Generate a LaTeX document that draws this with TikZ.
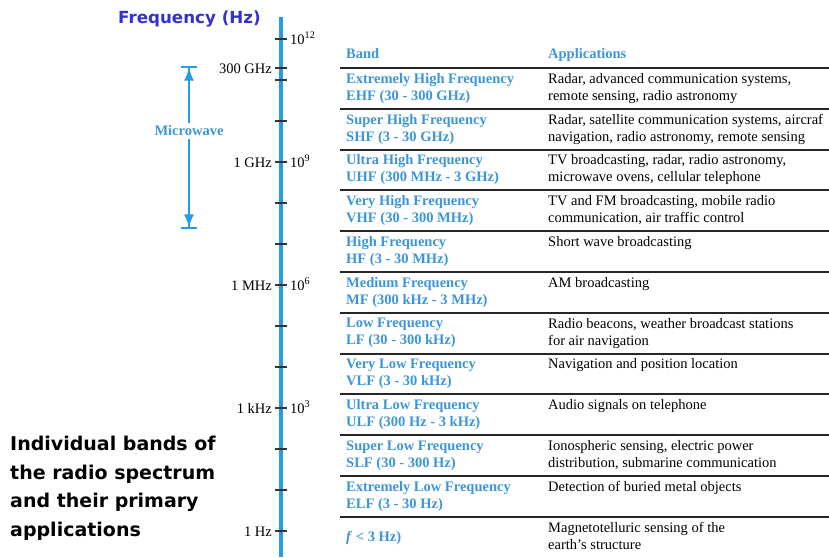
\documentclass[tikz,border=0pt]{standalone}
\usepackage{fontspec}
\setmainfont{Liberation Serif}
\newfontfamily\capfont{DejaVu Sans}
\usetikzlibrary{arrows.meta}
\definecolor{axisblue}{RGB}{40,155,230}
\definecolor{bandblue}{RGB}{60,150,215}
\definecolor{titleblue}{RGB}{50,50,210}
\newcommand\tabsize{\fontsize{14.5}{17}\selectfont}

\begin{document}
\begin{tikzpicture}[x=1pt,y=-1pt,
  band/.style={anchor=north west, inner sep=0pt, align=left, font=\tabsize\bfseries, text=bandblue},
  app/.style={anchor=north west, inner sep=0pt, align=left, font=\tabsize},
  ticklbl/.style={inner sep=0pt, font=\tabsize},
  rule/.style={line width=2pt, black!85},
  tickmark/.style={line width=1.8pt, black!80},
  mwarrow/.style={line width=1.6pt, axisblue, -{Latex[length=13pt,width=10pt]Bar[width=16pt,line width=1.6pt]}}]
\useasboundingbox[fill=white] (0,0) rectangle (829,557);

\node (title) [anchor=west, inner sep=0pt, font=\capfont\fontsize{16.7}{20}\selectfont\bfseries, text=titleblue] at (118,19) {Frequency (Hz)};

\draw[line width=3.5pt, axisblue] (281,17) -- (281,557);
\foreach \y in {39,80,...,531,68}
  \draw[tickmark] (275,\y) -- (287,\y);

\node (t12) [ticklbl, anchor=base west] at (290,44) {10\textsuperscript{12}};
\node (f300g) [ticklbl, anchor=base east] at (272,73) {300 GHz};
\node (f1g) [ticklbl, anchor=base east] at (272,167) {1 GHz};
\node (t9) [ticklbl, anchor=base west] at (290,167) {10\textsuperscript{9}};
\node (f1m) [ticklbl, anchor=base east] at (272,290) {1 MHz};
\node (t6) [ticklbl, anchor=base west] at (290,290) {10\textsuperscript{6}};
\node (f1k) [ticklbl, anchor=base east] at (272,413) {1 kHz};
\node (t3) [ticklbl, anchor=base west] at (290,413) {10\textsuperscript{3}};
\node (f1) [ticklbl, anchor=base east] at (272,536) {1 Hz};

\node (mw) [inner sep=3pt, font=\tabsize\bfseries, text=bandblue] at (189,131) {Microwave};
\coordinate (mwtop) at (189,66);
\coordinate (mwbot) at (189,229);
\draw[mwarrow] (mw) -- (mwtop);
\draw[mwarrow] (mw) -- (mwbot);

\node (hband) [band, anchor=base west] at (346,58) {Band};
\node (happ) [band, anchor=base west] at (548,58) {Applications};
\foreach \y in {68,108.8,149.6,190.4,231.2,272,312.8,353.6,394.4,435.2,476,516.8}
  \draw[rule] (340,\y) -- (829,\y);

\node (ehf) [band] at (346,73) {Extremely High Frequency\\EHF (30 - 300 GHz)};
\node (ehfapp) [app] at (548,73) {Radar, advanced communication systems,\\remote sensing, radio astronomy};
\node (shf) [band] at (346,113.8) {Super High Frequency\\SHF (3 - 30 GHz)};
\node (shfapp) [app] at (548,113.8) {Radar, satellite communication systems, aircraf\\navigation, radio astronomy, remote sensing};
\node (uhf) [band] at (346,154.6) {Ultra High Frequency\\UHF (300 MHz - 3 GHz)};
\node (uhfapp) [app] at (548,154.6) {TV broadcasting, radar, radio astronomy,\\microwave ovens, cellular telephone};
\node (vhf) [band] at (346,195.4) {Very High Frequency\\VHF (30 - 300 MHz)};
\node (vhfapp) [app] at (548,195.4) {TV and FM broadcasting, mobile radio\\communication, air traffic control};
\node (hf) [band] at (346,236.2) {High Frequency\\HF (3 - 30 MHz)};
\node (hfapp) [app] at (548,236.2) {Short wave broadcasting};
\node (mf) [band] at (346,277) {Medium Frequency\\MF (300 kHz - 3 MHz)};
\node (mfapp) [app] at (548,277) {AM broadcasting};
\node (lf) [band] at (346,317.8) {Low Frequency\\LF (30 - 300 kHz)};
\node (lfapp) [app] at (548,317.8) {Radio beacons, weather broadcast stations\\for air navigation};
\node (vlf) [band] at (346,358.6) {Very Low Frequency\\VLF (3 - 30 kHz)};
\node (vlfapp) [app] at (548,358.6) {Navigation and position location};
\node (ulf) [band] at (346,399.4) {Ultra Low Frequency\\ULF (300 Hz - 3 kHz)};
\node (ulfapp) [app] at (548,399.4) {Audio signals on telephone};
\node (slf) [band] at (346,440.2) {Super Low Frequency\\SLF (30 - 300 Hz)};
\node (slfapp) [app] at (548,440.2) {Ionospheric sensing, electric power\\distribution, submarine communication};
\node (elf) [band] at (346,481) {Extremely Low Frequency\\ELF (3 - 30 Hz)};
\node (elfapp) [app] at (548,481) {Detection of buried metal objects};
\node (flt3) [band, anchor=base west] at (346,541) {\textit{f} < 3 Hz)};
\node (flt3app) [app] at (548,521.8) {Magnetotelluric sensing of the\\earth's structure};

\node (caption) [anchor=north west, inner sep=0pt, align=left, font=\capfont\fontsize{19}{28.5}\selectfont\bfseries] at (10,436) {Individual bands of\\the radio spectrum\\and their primary\\applications};
\end{tikzpicture}
\end{document}
